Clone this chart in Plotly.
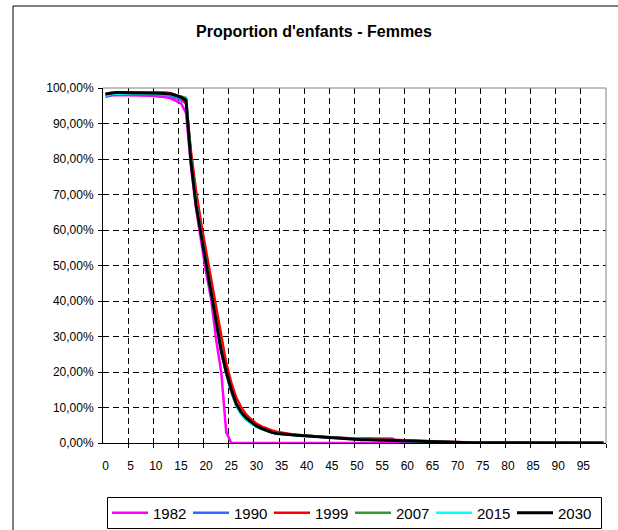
import plotly.graph_objects as go

ages = list(range(0, 100))

p1982 = [97.5, 97.9, 98.0, 98.0, 98.0, 98.0, 97.9, 97.8, 97.8, 97.8,
         97.7, 97.6, 97.4, 97.1, 96.5, 95.7, 93.0, 78.0, 66.0, 57.0,
         48.0, 40.5, 29.0, 20.0, 3.0, 0.0, 0.0, 0.0, 0.0, 0.0,
         0.0, 0.0, 0.0, 0.0, 0.0, 0.0, 0.0, 0.0, 0.0, 0.0,
         0.0, 0.0, 0.0, 0.0, 0.0, 0.0, 0.0, 0.0, 0.0, 0.0,
         0.0, 0.0, 0.0, 0.0, 0.0, 0.0, 0.0, 0.0, 0.0, 0.0,
         0.0, 0.0, 0.0, 0.0, 0.0, 0.0, 0.0, 0.0, 0.0, 0.0,
         0.0, 0.0, 0.0, 0.0, 0.0, 0.0, 0.0, 0.0, 0.0, 0.0,
         0.0, 0.0, 0.0, 0.0, 0.0, 0.0, 0.0, 0.0, 0.0, 0.0,
         0.0, 0.0, 0.0, 0.0, 0.0, 0.0, 0.0, 0.0, 0.0, 0.0]

p1990 = [97.6, 98.0, 98.2, 98.2, 98.2, 98.2, 98.2, 98.2, 98.2, 98.2,
         98.2, 98.1, 98.0, 97.8, 97.3, 96.7, 95.6, 81.0, 70.0, 61.0,
         52.0, 43.0, 34.0, 26.0, 19.5, 14.5, 10.5, 8.2, 6.6, 5.5,
         4.6, 4.0, 3.5, 3.1, 2.8, 2.6, 2.4, 2.3, 2.2, 2.1,
         2.0, 1.9, 1.8, 1.7, 1.6, 1.5, 1.45, 1.4, 1.35, 1.3,
         1.3, 1.3, 1.3, 1.3, 1.3, 1.3, 1.3, 1.3, 0.6, 0.55,
         0.5, 0.45, 0.4, 0.36, 0.32, 0.28, 0.24, 0.2, 0.16, 0.12,
         0.08, 0.05, 0.03, 0.02, 0.01, 0.0, 0.0, 0.0, 0.0, 0.0,
         0.0, 0.0, 0.0, 0.0, 0.0, 0.0, 0.0, 0.0, 0.0, 0.0,
         0.0, 0.0, 0.0, 0.0, 0.0, 0.0, 0.0, 0.0, 0.0, 0.0]

p1999 = [98.2, 98.6, 98.7, 98.7, 98.7, 98.7, 98.7, 98.7, 98.7, 98.7,
         98.8, 98.8, 98.7, 98.5, 98.0, 97.2, 96.0, 82.0, 71.0, 62.0,
         54.0, 46.0, 37.5, 29.5, 22.5, 17.0, 12.8, 10.0, 8.0, 6.6,
         5.5, 4.7, 4.1, 3.6, 3.2, 2.9, 2.7, 2.5, 2.35, 2.2,
         2.1, 1.95, 1.8, 1.7, 1.6, 1.5, 1.45, 1.4, 1.3, 1.2,
         1.1, 1.05, 1.0, 0.95, 0.9, 0.85, 0.8, 0.75, 0.7, 0.65,
         0.6, 0.55, 0.5, 0.45, 0.42, 0.4, 0.37, 0.34, 0.3, 0.25,
         0.2, 0.1, 0.05, 0.0, 0.0, 0.0, 0.0, 0.0, 0.0, 0.0,
         0.0, 0.0, 0.0, 0.0, 0.0, 0.0, 0.0, 0.0, 0.0, 0.0,
         0.0, 0.0, 0.0, 0.0, 0.0, 0.0, 0.0, 0.0, 0.0, 0.0]

p2007 = [98.1, 98.5, 98.6, 98.6, 98.6, 98.6, 98.6, 98.6, 98.6, 98.5,
         98.5, 98.4, 98.3, 98.2, 97.9, 97.6, 97.2, 80.0, 68.0, 59.5,
         51.5, 43.0, 34.0, 26.0, 19.8, 14.8, 10.8, 8.3, 6.7, 5.6,
         4.7, 4.0, 3.4, 3.0, 2.7, 2.5, 2.4, 2.3, 2.2, 2.1,
         2.0, 1.85, 1.7, 1.6, 1.5, 1.45, 1.4, 1.3, 1.2, 1.1,
         1.05, 1.0, 0.95, 0.9, 0.85, 0.8, 0.75, 0.7, 0.65, 0.6,
         0.55, 0.5, 0.45, 0.4, 0.36, 0.32, 0.28, 0.25, 0.22, 0.19,
         0.16, 0.13, 0.1, 0.08, 0.06, 0.05, 0.04, 0.03, 0.03, 0.02,
         0.02, 0.02, 0.01, 0.01, 0.01, 0.01, 0.01, 0.0, 0.0, 0.0,
         0.0, 0.0, 0.0, 0.0, 0.0, 0.0, 0.0, 0.0, 0.0, 0.0]

p2015 = [97.8, 98.3, 98.4, 98.5, 98.5, 98.5, 98.5, 98.5, 98.5, 98.4,
         98.4, 98.3, 98.2, 98.1, 97.7, 97.2, 96.8, 79.5, 67.5, 59.0,
         51.0, 42.8, 33.8, 25.8, 19.6, 14.6, 10.6, 8.1, 6.5, 5.4,
         4.6, 3.9, 3.4, 3.0, 2.7, 2.5, 2.4, 2.3, 2.2, 2.1,
         2.0, 1.8, 1.7, 1.6, 1.5, 1.45, 1.4, 1.3, 1.2, 1.15,
         1.3, 1.0, 0.9, 0.85, 0.8, 0.75, 0.7, 0.65, 0.6, 0.55,
         0.5, 0.46, 0.42, 0.38, 0.34, 0.3, 0.27, 0.24, 0.21, 0.18,
         0.15, 0.12, 0.1, 0.08, 0.07, 0.06, 0.05, 0.04, 0.04, 0.03,
         0.03, 0.02, 0.02, 0.02, 0.01, 0.01, 0.01, 0.01, 0.01, 0.0,
         0.0, 0.0, 0.0, 0.0, 0.0, 0.0, 0.0, 0.0, 0.0, 0.0]

p2030 = [98.3, 98.6, 98.7, 98.7, 98.7, 98.7, 98.7, 98.7, 98.6, 98.6,
         98.5, 98.5, 98.4, 98.3, 97.9, 97.4, 96.6, 79.0, 67.0, 59.0,
         51.0, 42.6, 34.0, 26.0, 20.0, 15.0, 11.0, 8.6, 7.0, 5.8,
         4.8, 4.1, 3.5, 3.0, 2.7, 2.5, 2.4, 2.3, 2.2, 2.1,
         2.0, 1.8, 1.7, 1.6, 1.5, 1.45, 1.4, 1.3, 1.2, 1.1,
         1.05, 0.95, 0.9, 0.85, 0.8, 0.75, 0.7, 0.65, 0.6, 0.55,
         0.5, 0.46, 0.42, 0.38, 0.34, 0.3, 0.27, 0.24, 0.21, 0.18,
         0.15, 0.12, 0.1, 0.08, 0.07, 0.06, 0.05, 0.04, 0.04, 0.03,
         0.03, 0.02, 0.02, 0.02, 0.01, 0.01, 0.01, 0.01, 0.01, 0.0,
         0.0, 0.0, 0.0, 0.0, 0.0, 0.0, 0.0, 0.0, 0.0, 0.0]

series_names = ["1982", "1990", "1999", "2007", "2015", "2030"]
series_values = [p1982, p1990, p1999, p2007, p2015, p2030]
series_colors = ["#FF00FF", "#3366FF", "#FF0000", "#339933", "#00FFFF", "#000000"]

x_tick_vals = list(range(0, 100, 5))
x_tick_text = [str(v) for v in x_tick_vals]
x_boundaries = [v + 4.5 for v in x_tick_vals]

FONT = "Liberation Sans, Arial, sans-serif"

fig = go.Figure()
for name, vals, col in zip(series_names, series_values, series_colors):
    fig.add_trace(go.Scatter(
        x=ages, y=[v / 100.0 for v in vals], name=name, mode="lines",
        line=dict(color=col, width=3 if name == "2030" else 2.5),
    ))

# plot area pixel geometry
L, R, T, B = 103, 606, 88, 443
W, H = 618, 530
pw, ph = R - L, B - T

def px(x):
    return (x - L) / pw

def py(y):
    return (B - y) / ph

fig.update_layout(
    width=W, height=H,
    margin=dict(l=L, r=W - R, t=T, b=H - B, pad=0, autoexpand=False),
    paper_bgcolor="white", plot_bgcolor="white",
    separators=",.",
    font=dict(family=FONT, size=12, color="black"),
    title=dict(text="<b>Proportion d'enfants - Femmes</b>",
               font=dict(family=FONT, size=16, color="black"),
               x=314 / W, xref="container", xanchor="center",
               y=1 - 31 / H, yref="container", yanchor="middle"),
    showlegend=True,
    legend=dict(orientation="h", xref="container", yref="container",
                x=107 / W, xanchor="left",
                y=1 - 513 / H, yanchor="middle",
                bgcolor="rgba(0,0,0,0)", borderwidth=0,
                font=dict(family=FONT, size=15, color="black"),
                itemwidth=36,
                entrywidth=30, entrywidthmode="pixels",
                traceorder="normal"),
    xaxis=dict(range=[-0.5, 99.5], tickmode="array",
               tickvals=x_tick_vals, ticktext=x_tick_text,
               ticks="", showgrid=False, zeroline=False,
               showline=True, linecolor="black", linewidth=1,
               ticklabelstandoff=12,
               tickfont=dict(family=FONT, size=12, color="black"),
               minor=dict(tickmode="array", tickvals=x_boundaries,
                          ticks="outside", ticklen=4, tickcolor="black",
                          showgrid=True, gridcolor="black", gridwidth=1,
                          griddash="6px,4px")),
    yaxis=dict(range=[0, 1], tickmode="array",
               tickvals=[i / 10 for i in range(11)],
               tickformat=".2%", ticks="outside", ticklen=4,
               tickcolor="black", showgrid=True, gridcolor="black",
               gridwidth=1, griddash="6px,4px", zeroline=False,
               showline=True, linecolor="black", linewidth=1,
               ticklabelstandoff=2,
               tickfont=dict(family=FONT, size=12, color="black")),
    shapes=[
        dict(type="rect", xref="paper", yref="paper",
             x0=px(13), x1=px(640), y0=py(560), y1=py(6),
             line=dict(color="black", width=1), layer="below"),
        dict(type="rect", xref="paper", yref="paper",
             x0=px(107.5), x1=px(601.5), y0=py(528.5), y1=py(497.5),
             line=dict(color="black", width=1), layer="below"),
        dict(type="line", xref="paper", yref="paper",
             x0=0, x1=1, y0=1, y1=1,
             line=dict(color="#808080", width=1), layer="above"),
        dict(type="line", xref="paper", yref="paper",
             x0=1, x1=1, y0=0, y1=1,
             line=dict(color="#808080", width=1), layer="above"),
    ],
)

fig.write_html("out.html")
